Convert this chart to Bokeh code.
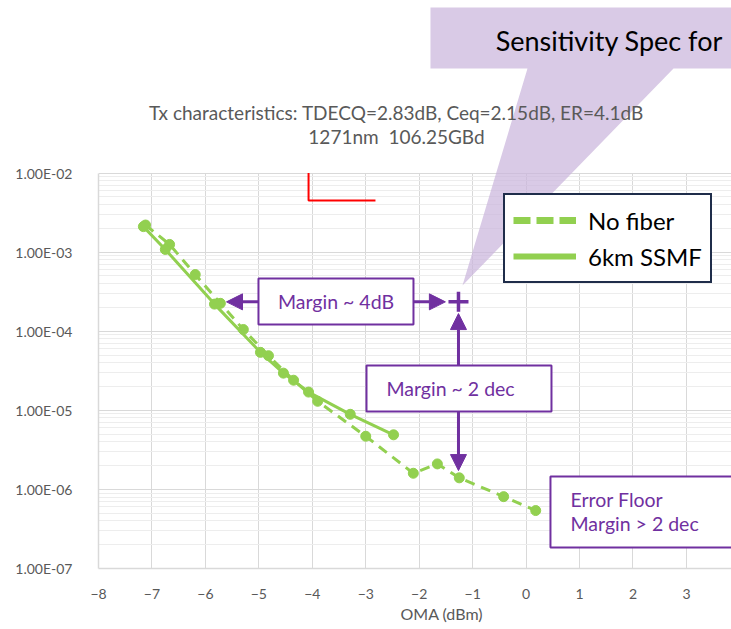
import numpy as np
from bokeh.plotting import figure
from bokeh.models import (Label, Arrow, NormalHead, BoxAnnotation, PolyAnnotation, Title,
                          Legend, LegendItem, CustomJSTickFormatter, FixedTicker, Range1d)
from bokeh.embed import file_html
from bokeh.resources import INLINE

# ---- data ----
nofiber_oma = [-7.12, -6.67, -6.19, -5.72, -5.29, -4.82, -4.35, -3.90, -3.00, -2.11, -1.66, -1.25, -0.42, 0.18]
nofiber_ber = [2.2e-3, 1.25e-3, 5.2e-4, 2.25e-4, 1.05e-4, 4.9e-5, 2.4e-5, 1.3e-5, 4.7e-6, 1.6e-6, 2.1e-6, 1.4e-6, 8.1e-7, 5.4e-7]
ssmf_oma = [-7.16, -6.75, -5.83, -4.97, -4.54, -4.07, -3.29, -2.48]
ssmf_ber = [2.1e-3, 1.08e-3, 2.2e-4, 5.4e-5, 2.95e-5, 1.7e-5, 8.9e-6, 4.9e-6]
x_ticks = list(range(-8, 4))
y_ticks = [1e-7, 1e-6, 1e-5, 1e-4, 1e-3, 1e-2]
spec_oma = -1.265
spec_ber = 2.35e-4

GREEN = "#92D050"
PURPLE = "#7030A0"
GRAY_TXT = "#595959"
FONT = "Lato"

# frame extends to the top of the page so that the header texts and the callout can be drawn
Y_TOP = 10 ** (-2 + 172.5 / 79.1)

p = figure(width=731, height=629, y_axis_type="log", title=None,
           x_range=Range1d(-8, 3.843), y_range=Range1d(1e-7, Y_TOP),
           output_backend="svg", toolbar_location=None,
           min_border_left=98, min_border_right=0, min_border_top=0, min_border_bottom=61)
p.outline_line_color = None
p.background_fill_color = "white"
p.border_fill_color = "white"

# axes
p.xaxis.ticker = FixedTicker(ticks=x_ticks)
minor = [m * 10.0 ** k for k in range(-7, -2) for m in range(2, 10)]
p.yaxis.ticker = FixedTicker(ticks=y_ticks, minor_ticks=minor)
p.yaxis.bounds = (1e-7, 1e-2)
p.yaxis.formatter = CustomJSTickFormatter(code=r"""
const s = tick.toExponential(2).toUpperCase();
return s.replace(/E([+-])(\d)$/, (m, a, b) => "E" + a + "0" + b);
""")
for ax in (p.xaxis, p.yaxis):
    ax.axis_line_color = "#D9D9D9"
    ax.axis_line_width = 1.5
    ax.major_tick_line_color = None
    ax.minor_tick_line_color = None
    ax.major_label_text_color = GRAY_TXT
    ax.major_label_text_font = FONT
    ax.major_label_text_font_size = "14px"
p.yaxis.major_label_standoff = 20
p.xaxis.major_label_standoff = 14

# axis title, placed as in the original (centred on the wider original plot area)
p.add_layout(Title(text="OMA (dBm)", align="left", offset=302, text_font=FONT,
                   text_font_size="16px", text_font_style="normal", text_color=GRAY_TXT,
                   standoff=0), "below")

p.xgrid.grid_line_color = "#D9D9D9"
p.xgrid.cross_bounds = (1e-7, 1e-2)
p.ygrid.grid_line_color = "#D9D9D9"
p.ygrid.minor_grid_line_color = "#EDEDED"

# callout (sensitivity spec)
callout = PolyAnnotation(
    xs=[-1.789, 4.2, 4.2, 2.758, -1.19, 0.026, -1.789],
    ys=[1.236, 1.236, 0.209, 0.209, 3.79e-4, 0.209, 0.209],
    fill_color="#C9B3DB", fill_alpha=0.7, line_color=None, level="underlay")
p.add_layout(callout)

# red L mark
p.line(x=[-4.07, -4.07, -2.818], y=[1e-2, 4.49e-3, 4.49e-3], line_color="red", line_width=2)

# data
p.line(nofiber_oma, nofiber_ber, line_color=GREEN, line_width=3, line_dash="10 7")
p.scatter(nofiber_oma, nofiber_ber, size=10, fill_color=GREEN, line_color=GREEN)
p.line(ssmf_oma, ssmf_ber, line_color=GREEN, line_width=3)
p.scatter(ssmf_oma, ssmf_ber, size=10, fill_color=GREEN, line_color=GREEN)

# legend with thicker sample lines
lg1 = p.line([np.nan], [np.nan], line_color=GREEN, line_width=7, line_dash="17 6")
lg2 = p.line([np.nan], [np.nan], line_color=GREEN, line_width=6)
legend = Legend(items=[LegendItem(label="No fiber", renderers=[lg1]),
                       LegendItem(label="6km SSMF", renderers=[lg2])],
                location=(405, 285), orientation="vertical",
                label_text_font=FONT, label_text_font_size="24px", label_text_color="black",
                glyph_width=63, glyph_height=34, label_height=34, label_standoff=12,
                padding=8, spacing=2, margin=0,
                border_line_color="#1F2D4A", border_line_width=2, border_line_alpha=1.0,
                background_fill_color="white", background_fill_alpha=1.0)
p.add_layout(legend, "center")

# annotation boxes
box_kw = dict(fill_color="white", fill_alpha=1.0, line_color=PURPLE, line_width=2, line_alpha=1.0)
p.add_layout(BoxAnnotation(left=-5.007, right=-2.107, top=4.64e-4, bottom=1.216e-4, **box_kw))
p.add_layout(BoxAnnotation(left=-2.986, right=0.475, top=3.68e-5, bottom=9.66e-6, **box_kw))
p.add_layout(BoxAnnotation(left=0.456, right=4.5, top=1.456e-6, bottom=1.845e-7, **box_kw))

head = dict(size=16, fill_color=PURPLE, line_color=PURPLE)
p.add_layout(Arrow(end=NormalHead(**head), x_start=-5.007, y_start=spec_ber, x_end=-5.605, y_end=spec_ber,
                   line_color=PURPLE, line_width=3))
p.add_layout(Arrow(end=NormalHead(**head), x_start=-2.107, y_start=spec_ber, x_end=-1.51, y_end=spec_ber,
                   line_color=PURPLE, line_width=3))
p.add_layout(Arrow(end=NormalHead(**head), x_start=spec_oma, y_start=3.68e-5, x_end=spec_oma, y_end=1.67e-4,
                   line_color=PURPLE, line_width=3))
p.add_layout(Arrow(end=NormalHead(**head), x_start=spec_oma, y_start=9.66e-6, x_end=spec_oma, y_end=1.73e-6,
                   line_color=PURPLE, line_width=3))
p.scatter([spec_oma], [spec_ber], marker="cross", size=20, line_color=PURPLE, line_width=3.5)

lab_kw = dict(text_font=FONT, text_color=PURPLE, text_font_size="19.5px", text_baseline="middle")
p.add_layout(Label(x=-3.557, y=2.375e-4, text="Margin ~ 4dB", text_align="center", **lab_kw))
p.add_layout(Label(x=-2.612, y=1.887e-5, text="Margin ~ 2 dec", text_align="left", **lab_kw))
p.add_layout(Label(x=0.831, y=7.45e-7, text="Error Floor", text_align="left", **lab_kw))
p.add_layout(Label(x=0.831, y=3.71e-7, text="Margin > 2 dec", text_align="left", **lab_kw))

# header texts
p.add_layout(Label(x=-2.425, y=0.0582, text="Tx characteristics: TDECQ=2.83dB, Ceq=2.15dB, ER=4.1dB",
                   text_align="center", text_baseline="middle", text_font=FONT,
                   text_font_size="19px", text_color=GRAY_TXT))
p.add_layout(Label(x=-2.425, y=0.0289, text="1271nm\u00a0\u00a0106.25GBd",
                   text_align="center", text_baseline="middle", text_font=FONT,
                   text_font_size="19px", text_color=GRAY_TXT))
p.add_layout(Label(x=-0.57, y=0.473, text="Sensitivity Spec for",
                   text_align="left", text_baseline="middle", text_font=FONT,
                   text_font_size="27px", text_color="black"))

open("out.html", "w").write(file_html(p, INLINE))
